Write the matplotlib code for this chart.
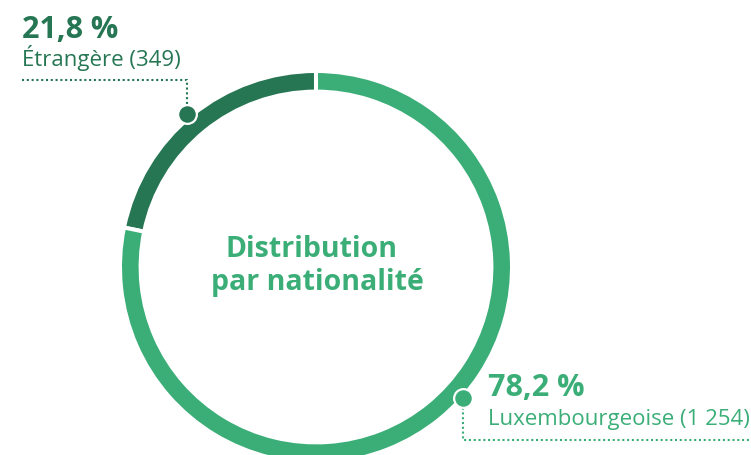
import numpy as np
import matplotlib
matplotlib.use("Agg")
import matplotlib.pyplot as plt

# ---- data ----
categories = ["Étrangère", "Luxembourgeoise"]
counts = [349, 1254]
percents = [21.8, 78.2]
center_title = ["Distribution", "par nationalité"]

# ---- style ----
DARK = "#267654"
LIGHT = "#3bae78"
colors = [DARK, LIGHT]
W, H = 751, 455

fig = plt.figure(figsize=(W / 100, H / 100), dpi=100)
ax = fig.add_axes([0, 0, 1, 1])

cx, cy = 316, H - 267
R_out = 194
ring_w = 16.6
gap_lw = 2.9  # pt
gap_px = gap_lw * 100 / 72

ax.pie(counts, colors=colors, radius=R_out + gap_px / 2, center=(cx, cy),
       startangle=90, counterclock=True,
       wedgeprops=dict(width=ring_w + gap_px, edgecolor="white", linewidth=gap_lw))

ax.set_xlim(0, W)
ax.set_ylim(0, H)
ax.set_aspect("equal")
ax.axis("off")

def fmt_pct(p):
    return f"{p:.1f}".replace(".", ",") + " %"

def fmt_int(n):
    return f"{n:,}".replace(",", " ")

# dot markers on the ring
dot_specs = [(40.0, 200.0), (-131.7, 197.3)]  # angle from top (ccw positive), radius
dots = []
for (ang, r), col in zip(dot_specs, colors):
    a = np.deg2rad(90 + ang)
    x, y = cx + r * np.cos(a), cy + r * np.sin(a)
    dots.append((x, y))
    ax.plot([x], [y], marker="o", ms=13.5, color=col, mec="white", mew=1.6, zorder=5)

dot_style = dict(linestyle=(0, (1, 1.3)), linewidth=1.5, zorder=3)

# Étrangère leader
x0, y0 = dots[0]
ax.plot([22, x0, x0], [H - 80, H - 80, y0], color=DARK, **dot_style)
# Luxembourgeoise leader
x1, y1 = dots[1]
ax.plot([x1, x1, W], [y1, H - 440, H - 440], color=LIGHT, **dot_style)

num_font = dict(family=["Open Sans", "DejaVu Sans"], fontweight="bold", fontsize=22)
lab_font = dict(family=["Open Sans", "DejaVu Sans"], fontsize=16)

ax.text(22, H - 38, fmt_pct(percents[0]), color=DARK, ha="left", va="baseline", **num_font)
ax.text(22, H - 66, f"{categories[0]} ({fmt_int(counts[0])})", color=DARK,
        ha="left", va="baseline", **lab_font)
ax.text(488, H - 396, fmt_pct(percents[1]), color=LIGHT, ha="left", va="baseline", **num_font)
ax.text(488, H - 425, f"{categories[1]} ({fmt_int(counts[1])})", color=LIGHT,
        ha="left", va="baseline", **lab_font)

ctr_font = dict(family=["Open Sans", "DejaVu Sans"], fontweight="bold", fontsize=20.5)
ax.text(312, H - 257, center_title[0], color=LIGHT, ha="center", va="baseline", **ctr_font)
ax.text(317, H - 290, center_title[1], color=LIGHT, ha="center", va="baseline", **ctr_font)

fig.savefig("out.png", dpi=100)
